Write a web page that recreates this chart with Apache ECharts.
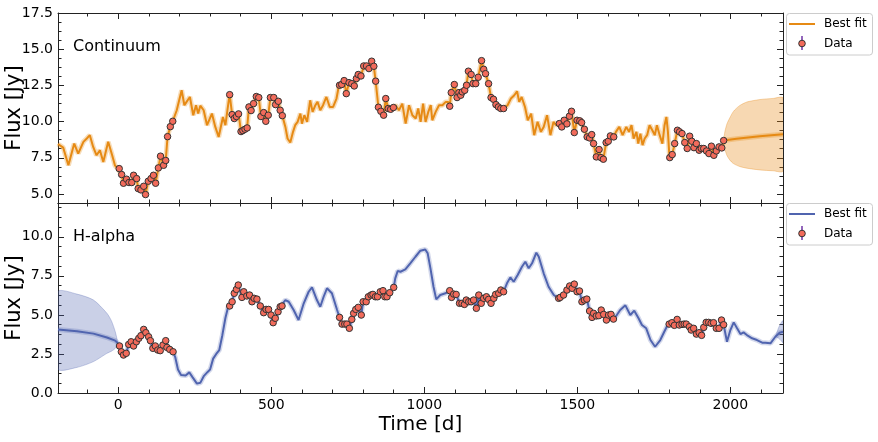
<!DOCTYPE html>
<html lang="en" style="height: 100%">
<head>
  <meta charset="utf-8">
  <script type="text/javascript" src="https://cdn.jsdelivr.net/npm/echarts@6/dist/echarts.min.js"></script>
</head>
<body style="height: 100%; margin: 0; background: #fff">
  <div id="container" style="width: 878px; height: 442px"></div>
  <script type="text/javascript">
    // ---- tick values ----
    var xMajor = [0, 500, 1000, 1500, 2000];
    var xMinor = [-100, 100, 200, 300, 400, 600, 700, 800, 900, 1100, 1200, 1300, 1400, 1600, 1700, 1800, 1900, 2100];
    var contYMajor = [5, 7.5, 10, 12.5, 15, 17.5];
    var contYMinor = [5.625, 6.25, 6.875, 8.125, 8.75, 9.375, 10.625, 11.25, 11.875, 13.125, 13.75, 14.375, 15.625, 16.25, 16.875];
    var haYMajor = [0, 2.5, 5, 7.5, 10];
    var haYMinor = [0.625, 1.25, 1.875, 3.125, 3.75, 4.375, 5.625, 6.25, 6.875, 8.125, 8.75, 9.375, 10.625, 11.25, 11.875];

    // ---- continuum: observed points ----
    var contData = [
      [3, 6.75], [11, 6.34], [17, 5.74], [27, 6.02], [35, 5.79], [44, 5.79], [50, 6.29], [60, 6.06], [65, 5.37], [74, 5.28],
      [83, 5.53], [89, 4.96], [98, 5.88], [107, 6.06], [115, 6.29], [122, 5.74], [131, 6.80], [138, 7.61], [148, 6.98], [155, 7.31],
      [161, 8.96], [170, 9.65], [178, 10.02],
      [364, 11.86], [372, 10.48], [379, 10.21], [386, 10.35], [393, 10.53], [401, 9.31], [407, 9.38], [414, 9.47], [421, 9.56],
      [427, 11.01], [434, 10.76], [442, 11.24], [451, 11.73], [459, 11.66], [466, 10.35], [475, 10.62], [482, 10.02], [490, 10.44],
      [497, 11.66], [508, 11.66], [514, 11.17], [523, 11.40], [529, 10.78], [536, 10.41],
      [723, 12.51], [730, 12.56], [738, 12.83], [745, 11.93], [754, 12.69], [763, 12.62], [771, 12.46], [778, 12.97], [784, 13.25],
      [793, 13.15], [802, 13.84], [811, 13.84], [819, 13.66], [828, 14.17], [835, 13.82], [841, 12.79], [850, 10.99], [858, 10.71],
      [867, 10.44], [874, 11.59], [882, 10.90], [890, 10.85], [899, 10.97],
      [1083, 11.06], [1088, 12.0], [1098, 12.56], [1107, 11.66], [1113, 12.0], [1119, 11.82], [1124, 12.05], [1132, 12.16],
      [1138, 12.51], [1144, 13.48], [1153, 13.25], [1159, 12.62], [1168, 12.62], [1176, 13.06], [1187, 14.21], [1194, 13.61],
      [1200, 13.31], [1210, 12.62], [1218, 11.66], [1226, 11.54], [1234, 11.17], [1242, 11.01], [1250, 10.90], [1259, 10.90],
      [1441, 9.86], [1449, 9.63], [1457, 10.09], [1466, 9.84], [1474, 10.37], [1481, 10.71], [1490, 9.24], [1499, 10.09],
      [1508, 10.05], [1514, 9.93], [1523, 9.47], [1532, 8.94], [1540, 8.87], [1547, 9.10], [1553, 8.48], [1562, 7.56], [1571, 8.07],
      [1577, 7.51], [1585, 7.40], [1594, 8.55], [1601, 8.64], [1608, 9.01], [1619, 8.94],
      [1802, 7.51], [1810, 7.72], [1818, 8.48], [1827, 9.40], [1834, 9.29], [1842, 9.17], [1851, 8.55], [1859, 8.14], [1867, 8.99],
      [1874, 8.64], [1881, 8.20], [1889, 8.48], [1898, 8.02], [1905, 8.14], [1913, 8.14], [1922, 7.97], [1930, 7.79], [1938, 8.30],
      [1946, 7.67], [1954, 7.97], [1963, 8.25], [1972, 8.18], [1978, 8.69]
    ];
    // continuum best fit between the observed points
    var contFitGaps = [
      [-197, 8.45], [-180, 8.2], [-163, 6.98], [-144, 8.48], [-131, 7.79], [-114, 8.6], [-103, 8.83], [-93, 9.06], [-82, 8.25],
      [-71, 7.67], [-60, 8.02], [-49, 7.21], [-33, 8.6], [-20, 7.67], [-11, 6.98], [-2, 6.75],
      [191, 10.78], [207, 12.16], [216, 11.13], [223, 11.36], [234, 11.70], [245, 10.44], [254, 11.13], [261, 10.55], [268, 11.1],
      [279, 10.78], [290, 9.75], [306, 10.55], [317, 9.63], [328, 8.94], [342, 10.32], [350, 9.75], [361, 11.47],
      [546, 9.63], [553, 8.83], [562, 8.55], [571, 9.29], [578, 9.75], [586, 9.98], [595, 10.55], [600, 9.86], [608, 10.44],
      [617, 9.98], [627, 11.47], [635, 10.67], [644, 11.13], [651, 11.36], [660, 10.78], [669, 11.13], [680, 11.70], [691, 11.01],
      [702, 11.01], [713, 11.59], [720, 12.39],
      [906, 11.13], [917, 10.78], [928, 11.24], [939, 9.86], [950, 11.13], [961, 10.44], [972, 10.21], [980, 10.90], [988, 9.98],
      [996, 11.24], [1004, 9.98], [1013, 10.67], [1021, 11.13], [1026, 10.09], [1037, 10.67], [1048, 11.13], [1059, 11.13],
      [1070, 11.36], [1078, 11.36],
      [1272, 11.13], [1283, 11.59], [1294, 11.82], [1303, 12.09], [1310, 11.36], [1318, 11.70], [1329, 11.01], [1338, 10.09],
      [1349, 10.55], [1359, 9.06], [1370, 9.98], [1381, 9.29], [1390, 9.63], [1401, 10.44], [1412, 9.06], [1422, 9.98], [1430, 9.75],
      [1626, 9.29], [1637, 9.63], [1648, 9.06], [1660, 9.63], [1669, 9.29], [1677, 9.75], [1684, 8.83], [1693, 9.29], [1699, 8.48],
      [1706, 9.17], [1713, 8.37], [1720, 8.83], [1728, 9.06], [1736, 9.75], [1745, 9.40], [1753, 9.06], [1760, 9.75], [1769, 9.06],
      [1778, 8.48], [1785, 9.75], [1791, 10.32], [1796, 9.29], [1800, 7.91],
      [2020, 8.82], [2096, 8.98], [2172, 9.13]
    ];
    // continuum forecast band [time, lower, upper]
    var contBand = [
      [1978, 8.69, 8.69], [1982, 8.1, 9.3], [1989, 7.65, 9.85], [1998, 7.35, 10.25], [2010, 7.1, 10.7], [2030, 6.9, 11.1],
      [2054, 6.78, 11.35], [2096, 6.66, 11.52], [2140, 6.6, 11.6], [2172, 6.58, 11.63]
    ];

    // ---- H-alpha: observed points ----
    var haData = [
      [4, 3.01], [10, 2.64], [17, 2.43], [26, 2.54], [34, 3.11], [42, 3.28], [50, 3.01], [59, 3.28], [67, 3.50], [74, 3.67],
      [83, 4.07], [90, 3.86], [99, 3.60], [105, 3.35], [113, 2.86], [121, 3.01], [129, 2.75], [137, 2.71], [146, 3.07], [155, 3.35],
      [159, 2.92], [168, 2.79], [179, 2.64],
      [364, 5.57], [372, 5.84], [379, 6.38], [386, 6.63], [392, 6.91], [404, 6.12], [410, 6.48], [420, 6.21], [429, 6.27],
      [437, 5.84], [444, 6.06], [453, 6.01], [464, 5.57], [475, 5.14], [483, 5.35], [491, 5.35], [499, 4.99], [506, 4.50],
      [513, 4.78], [522, 5.20], [529, 5.52], [535, 5.57],
      [723, 4.84], [731, 4.41], [740, 4.41], [747, 4.41], [755, 4.14], [763, 4.71], [769, 5.10], [776, 5.35], [784, 5.48],
      [794, 4.99], [800, 5.84], [810, 5.84], [817, 6.16], [826, 6.27], [832, 6.31], [840, 6.16], [847, 6.16], [856, 6.48],
      [865, 6.55], [871, 6.16], [878, 6.16], [887, 6.42], [900, 6.76],
      [1083, 6.55], [1089, 6.12], [1096, 6.33], [1104, 6.31], [1115, 5.74], [1123, 5.74], [1131, 5.67], [1137, 5.95], [1145, 5.84],
      [1153, 5.84], [1161, 5.95], [1170, 5.42], [1178, 6.27], [1186, 5.74], [1194, 6.06], [1203, 6.16], [1210, 5.99], [1218, 5.74],
      [1227, 6.06], [1233, 6.31], [1243, 6.38], [1250, 6.59], [1259, 6.48],
      [1439, 6.06], [1444, 6.12], [1455, 6.27], [1466, 6.59], [1475, 6.85], [1483, 6.70], [1490, 6.97], [1499, 6.48], [1507, 6.53],
      [1515, 5.84], [1523, 5.95], [1531, 6.01], [1540, 5.25], [1548, 4.84], [1553, 5.10], [1562, 4.93], [1570, 4.95], [1578, 5.31],
      [1586, 5.03], [1595, 4.67], [1602, 4.99], [1610, 5.03], [1618, 4.73],
      [1800, 4.41], [1809, 4.50], [1817, 4.33], [1826, 4.71], [1833, 4.35], [1842, 4.39], [1849, 4.41], [1856, 4.41], [1866, 4.24],
      [1872, 4.03], [1880, 4.14], [1889, 3.77], [1898, 3.86], [1906, 3.69], [1913, 4.20], [1921, 4.52], [1929, 4.52], [1937, 4.46],
      [1945, 4.50], [1954, 4.14], [1963, 4.14], [1971, 4.67], [1978, 4.37]
    ];
    var haFitGaps = [
      [-197, 4.07], [-135, 3.95], [-81, 3.80], [-37, 3.55], [-10, 3.35], [-2, 3.2],
      [186, 2.3], [195, 1.5], [205, 1.15], [220, 1.12], [232, 1.32], [243, 1.0], [257, 0.6], [268, 0.65], [280, 1.1], [292, 1.35],
      [300, 1.5], [310, 2.2], [320, 2.5], [330, 2.75], [340, 3.7], [350, 4.8], [360, 5.6],
      [546, 5.95], [557, 5.84], [573, 5.31], [589, 4.67], [606, 5.74], [622, 6.48], [633, 6.76], [649, 5.95], [660, 5.52],
      [671, 6.16], [682, 6.70], [698, 6.38], [715, 5.31],
      [905, 7.34], [913, 7.81], [922, 7.76], [938, 7.91], [954, 8.30], [971, 8.72], [987, 9.11], [1003, 9.19], [1011, 8.94],
      [1020, 7.98], [1030, 6.80], [1039, 5.99], [1052, 6.27], [1069, 6.38], [1074, 6.48],
      [1270, 7.02], [1281, 7.40], [1292, 7.12], [1305, 7.55], [1319, 8.08], [1330, 8.40], [1341, 7.98], [1352, 8.30], [1366, 8.98],
      [1374, 8.72], [1390, 7.66], [1406, 6.80], [1423, 6.27],
      [1629, 4.99], [1640, 5.31], [1657, 5.61], [1673, 4.99], [1686, 5.27], [1700, 4.78], [1711, 4.35], [1725, 4.14], [1739, 3.39],
      [1754, 2.96], [1771, 3.39], [1784, 3.92], [1795, 4.35],
      [1989, 3.28], [2000, 4.03], [2011, 4.52], [2022, 4.14], [2033, 3.77], [2043, 3.88], [2054, 3.71], [2071, 3.50], [2087, 3.39],
      [2104, 3.22], [2114, 3.22], [2131, 3.18], [2147, 3.60], [2161, 3.86], [2172, 3.92]
    ];
    var haBandLeft = [
      [-197, 1.54, 6.48], [-135, 1.64, 6.33], [-81, 2.01, 5.95], [-37, 2.54, 5.10], [-22, 2.68, 4.6], [-10, 2.86, 3.93], [-2, 3.15, 3.25]
    ];
    var haBandRight = [
      [2147, 3.6, 3.6], [2158, 3.5, 4.2], [2166, 3.35, 4.5], [2172, 3.22, 4.63]
    ];

    var xMin = -197, xMax = 2172;
    var FONT = 'DejaVu Sans';
    var INK = '#222';
    var ORANGE = '#e68a14', BLUE = '#5064af';

    function byTime(a, b) { return a[0] - b[0]; }
    var contFit = contFitGaps.concat(contData).sort(byTime);
    var haFit = haFitGaps.concat(haData).sort(byTime);

    function axis(gridIndex, position, min, max, values, len, withLabel, withLine, fmt) {
      return {
        type: 'value', gridIndex: gridIndex, position: position, min: min, max: max,
        axisLine: { show: withLine, onZero: false, lineStyle: { color: INK, width: 1 } },
        axisTick: { show: true, inside: true, length: len, customValues: values, lineStyle: { color: INK, width: 1 } },
        axisLabel: {
          show: withLabel, customValues: values, margin: 5,
          color: '#000', fontFamily: FONT, fontSize: 14, formatter: fmt
        },
        splitLine: { show: false }
      };
    }
    function fmtX(v) { return String(Math.round(v)); }
    function fmtY(v) { return v.toFixed(1); }

    var xAxes = [], yAxes = [];
    [0, 1].forEach(function (g) {
      var last = g === 1;
      xAxes.push(axis(g, 'bottom', xMin, xMax, xMajor, 6, last, true, fmtX));
      xAxes.push(axis(g, 'bottom', xMin, xMax, xMinor, 3.5, false, false, fmtX));
      xAxes.push(axis(g, 'top', xMin, xMax, xMajor, 6, false, true, fmtX));
      xAxes.push(axis(g, 'top', xMin, xMax, xMinor, 3.5, false, false, fmtX));
      var ymin = g === 0 ? 4.375 : 0, ymax = g === 0 ? 17.5 : 12.16;
      var maj = g === 0 ? contYMajor : haYMajor, mnr = g === 0 ? contYMinor : haYMinor;
      yAxes.push(axis(g, 'left', ymin, ymax, maj, 6, true, true, fmtY));
      yAxes.push(axis(g, 'left', ymin, ymax, mnr, 3.5, false, false, fmtY));
      yAxes.push(axis(g, 'right', ymin, ymax, maj, 6, false, true, fmtY));
      yAxes.push(axis(g, 'right', ymin, ymax, mnr, 3.5, false, false, fmtY));
    });
    xAxes[4].name = 'Time [d]';
    xAxes[4].nameLocation = 'middle';
    xAxes[4].nameGap = 22;
    xAxes[4].nameMoveOverlap = false;
    xAxes[4].nameTextStyle = { fontFamily: FONT, fontSize: 20, color: '#000' };
    [0, 4].forEach(function (i) {
      yAxes[i].name = 'Flux [Jy]';
      yAxes[i].nameLocation = 'middle';
      yAxes[i].nameGap = 33;
      yAxes[i].nameMoveOverlap = false;
      yAxes[i].nameTextStyle = { fontFamily: FONT, fontSize: 21, color: '#000' };
    });

    function bandSeries(band, axisIdx, fill) {
      return {
        type: 'custom', xAxisIndex: axisIdx, yAxisIndex: axisIdx, silent: true, z: 1, clip: true,
        data: band, encode: { x: 0, y: [1, 2] },
        renderItem: function (params, api) {
          if (params.dataIndex !== 0) return;
          var upper = band.map(function (d) { return api.coord([d[0], d[2]]); });
          var lower = band.slice().reverse().map(function (d) { return api.coord([d[0], d[1]]); });
          return {
            type: 'polygon',
            shape: { points: upper.concat(lower), smooth: 0.25 },
            style: { fill: fill, stroke: fill, lineWidth: 1 }
          };
        }
      };
    }
    function haloSeries(data, axisIdx, color) {
      return {
        type: 'line', xAxisIndex: axisIdx, yAxisIndex: axisIdx, data: data, symbol: 'none', silent: true, z: 2,
        lineStyle: { color: color, width: 5 }
      };
    }
    function fitSeries(data, axisIdx, color) {
      return {
        type: 'line', xAxisIndex: axisIdx, yAxisIndex: axisIdx, data: data, symbol: 'none', silent: true, z: 3,
        lineStyle: { color: color, width: 2 }
      };
    }
    function dataSeries(data, axisIdx) {
      return {
        type: 'scatter', xAxisIndex: axisIdx, yAxisIndex: axisIdx, data: data, symbol: 'circle', symbolSize: 6.5, z: 4,
        itemStyle: { color: '#f26b5b', borderColor: '#333', borderWidth: 1, opacity: 1 }
      };
    }

    function legendBox(top, color) {
      return [
        { type: 'rect', shape: { x: 786.5, y: top + 0.5, width: 86, height: 41.5, r: 3 },
          style: { fill: 'rgba(255,255,255,0.8)', stroke: '#cccccc', lineWidth: 1 }, z: 10 },
        { type: 'line', shape: { x1: 789, y1: top + 11, x2: 815, y2: top + 11 },
          style: { stroke: color, lineWidth: 2 }, z: 11 },
        { type: 'line', shape: { x1: 802, y1: top + 23, x2: 802, y2: top + 37 },
          style: { stroke: '#9467bd', lineWidth: 2 }, z: 11 },
        { type: 'circle', shape: { cx: 802, cy: top + 30.5, r: 3.3 },
          style: { fill: '#f26b5b', stroke: '#333', lineWidth: 1 }, z: 12 },
        { type: 'text', x: 824, y: top + 11, z: 12,
          style: { text: 'Best fit', font: '12px "DejaVu Sans"', fill: '#000', verticalAlign: 'middle' } },
        { type: 'text', x: 824, y: top + 30.5, z: 12,
          style: { text: 'Data', font: '12px "DejaVu Sans"', fill: '#000', verticalAlign: 'middle' } }
      ];
    }

    var dom = document.getElementById('container');
    var myChart = echarts.init(dom, null, { renderer: 'canvas' });
    var option = {
      animation: false,
      backgroundColor: '#fff',
      grid: [
        { left: 58, top: 13, width: 725, height: 190, outerBoundsMode: 'none', containLabel: false },
        { left: 58, top: 203, width: 725, height: 190, outerBoundsMode: 'none', containLabel: false }
      ],
      xAxis: xAxes,
      yAxis: yAxes,
      graphic: [
        { type: 'text', x: 73, y: 47, style: { text: 'Continuum', font: '16px "DejaVu Sans"', fill: '#000', verticalAlign: 'middle' } },
        { type: 'text', x: 73, y: 237, style: { text: 'H-alpha', font: '16px "DejaVu Sans"', fill: '#000', verticalAlign: 'middle' } }
      ].concat(legendBox(13, ORANGE), legendBox(203, BLUE)),
      series: [
        bandSeries(contBand, 0, 'rgba(230,138,20,0.33)'),
        haloSeries(contFit, 0, 'rgba(230,138,20,0.3)'),
        fitSeries(contFit, 0, ORANGE),
        dataSeries(contData, 0),
        bandSeries(haBandLeft, 4, 'rgba(80,100,175,0.3)'),
        bandSeries(haBandRight, 4, 'rgba(80,100,175,0.3)'),
        haloSeries(haFit, 4, 'rgba(80,100,175,0.25)'),
        fitSeries(haFit, 4, BLUE),
        dataSeries(haData, 4)
      ]
    };
    myChart.setOption(option);
  </script>
</body>
</html>
